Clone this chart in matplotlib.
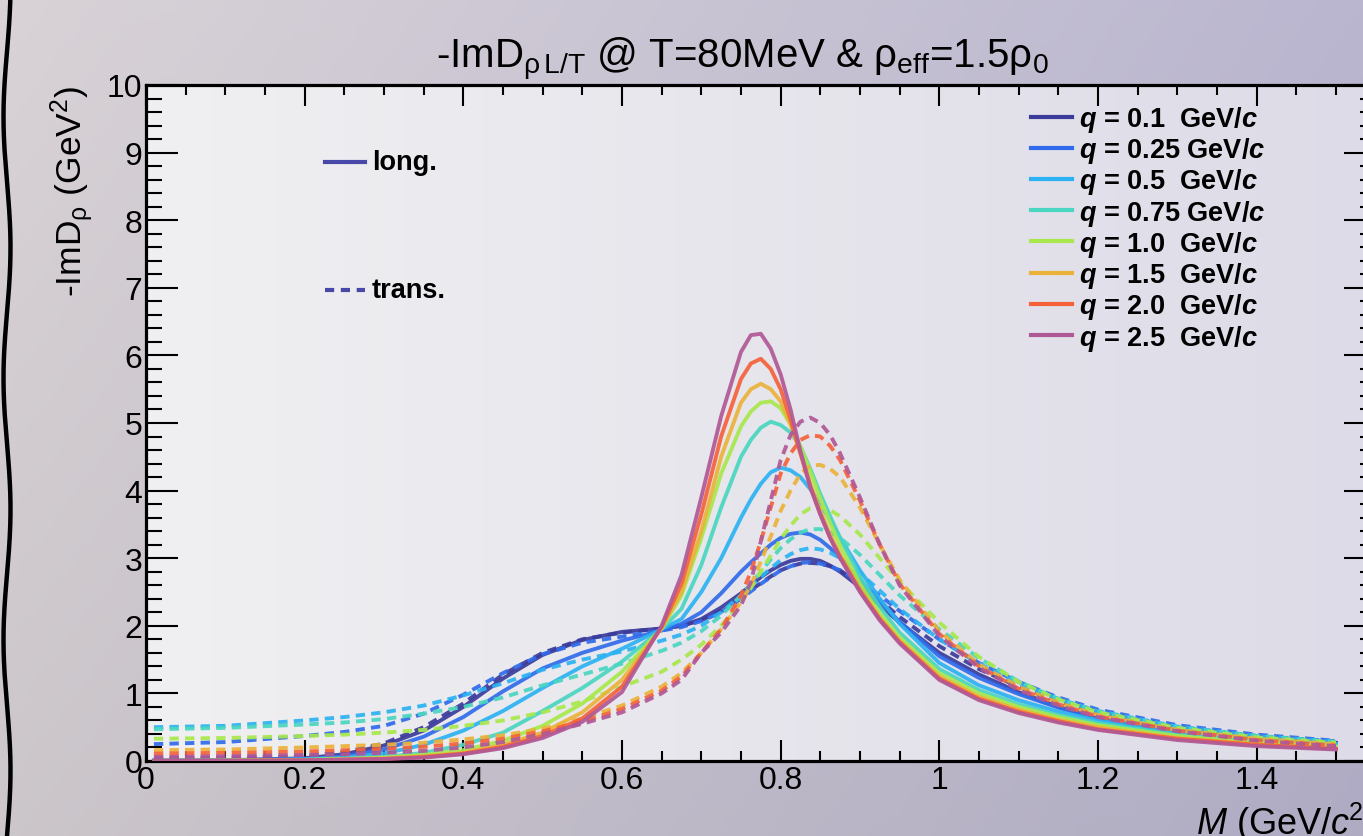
import numpy as np
import matplotlib
matplotlib.use('Agg')
import matplotlib.pyplot as plt
from matplotlib.lines import Line2D
from matplotlib.ticker import MultipleLocator, FixedLocator

plt.rcParams['font.family'] = 'Liberation Sans'
plt.rcParams['mathtext.fontset'] = 'custom'
plt.rcParams['mathtext.rm'] = 'Liberation Sans'
plt.rcParams['mathtext.it'] = 'Liberation Sans:italic:bold'
plt.rcParams['mathtext.sf'] = 'Liberation Sans:italic'
plt.rcParams['mathtext.bf'] = 'Liberation Sans:bold'

# invariant mass grid (GeV/c^2)
m_gev = [0.01, 0.1, 0.2, 0.25, 0.3, 0.35, 0.4, 0.45, 0.5, 0.55, 0.6, 0.65, 0.675, 0.7, 0.725, 0.75,
         0.7625, 0.775, 0.7875, 0.8, 0.8125, 0.825, 0.8375, 0.85, 0.8625, 0.875,
         0.9, 0.925, 0.95, 1.0, 1.05, 1.1, 1.15, 1.2, 1.3, 1.4, 1.5]

q_labels = ['0.1 ', '0.25', '0.5 ', '0.75', '1.0 ', '1.5 ', '2.0 ', '2.5 ']
colors = ['#3b3b9c', '#2f6bea', '#2cb2f2', '#4ad6c0', '#a8e84c', '#ebb23a', '#f5613a', '#b05896']

# longitudinal  -ImD_rho
long_q010 = [0.005, 0.01, 0.04, 0.1, 0.23, 0.45, 0.8, 1.22, 1.57, 1.79, 1.91, 1.96, 2.0, 2.1, 2.27, 2.48,
             2.6, 2.72, 2.82, 2.9, 2.96, 2.99, 2.99, 2.96, 2.89, 2.8,
             2.57, 2.3, 2.05, 1.6, 1.28, 1.02, 0.8, 0.64, 0.45, 0.34, 0.27]
long_q025 = [0.004, 0.01, 0.03, 0.07, 0.17, 0.36, 0.65, 1.03, 1.37, 1.6, 1.78, 1.93, 2.03, 2.2, 2.48, 2.8,
             2.94, 3.07, 3.2, 3.3, 3.36, 3.38, 3.35, 3.27, 3.15, 3.0,
             2.68, 2.36, 2.06, 1.55, 1.23, 0.99, 0.79, 0.63, 0.44, 0.33, 0.26]
long_q050 = [0.003, 0.008, 0.025, 0.05, 0.11, 0.24, 0.45, 0.74, 1.08, 1.4, 1.66, 1.95, 2.1, 2.5, 3.0, 3.6,
             3.87, 4.1, 4.27, 4.34, 4.3, 4.2, 4.02, 3.8, 3.56, 3.3,
             2.82, 2.4, 2.03, 1.45, 1.12, 0.9, 0.73, 0.6, 0.42, 0.31, 0.25]
long_q075 = [0.003, 0.006, 0.02, 0.035, 0.06, 0.12, 0.24, 0.42, 0.74, 1.08, 1.47, 1.95, 2.25, 2.9, 3.75, 4.5,
             4.75, 4.93, 5.02, 4.97, 4.86, 4.65, 4.32, 3.95, 3.62, 3.3,
             2.72, 2.28, 1.9, 1.36, 1.05, 0.84, 0.68, 0.56, 0.39, 0.29, 0.23]
long_q100 = [0.002, 0.005, 0.015, 0.03, 0.05, 0.09, 0.16, 0.3, 0.52, 0.85, 1.32, 1.96, 2.45, 3.3, 4.25, 4.95,
             5.17, 5.3, 5.32, 5.22, 4.98, 4.65, 4.28, 3.88, 3.52, 3.18,
             2.62, 2.18, 1.83, 1.3, 1.0, 0.8, 0.65, 0.53, 0.37, 0.27, 0.21]
long_q150 = [0.002, 0.004, 0.012, 0.025, 0.04, 0.07, 0.12, 0.24, 0.42, 0.72, 1.2, 1.97, 2.5, 3.4, 4.5, 5.3,
             5.5, 5.58, 5.5, 5.32, 4.98, 4.55, 4.1, 3.7, 3.35, 3.05,
             2.54, 2.12, 1.78, 1.25, 0.95, 0.76, 0.61, 0.5, 0.34, 0.25, 0.19]
long_q200 = [0.002, 0.004, 0.011, 0.02, 0.03, 0.06, 0.11, 0.21, 0.37, 0.63, 1.1, 1.98, 2.62, 3.65, 4.8, 5.65,
             5.88, 5.95, 5.8, 5.5, 5.05, 4.55, 4.05, 3.65, 3.3, 3.02,
             2.52, 2.1, 1.76, 1.22, 0.92, 0.73, 0.59, 0.47, 0.33, 0.24, 0.18]
long_q250 = [0.002, 0.003, 0.01, 0.02, 0.03, 0.05, 0.1, 0.19, 0.34, 0.58, 1.02, 2.0, 2.75, 3.9, 5.1, 6.05,
             6.3, 6.32, 6.1, 5.72, 5.2, 4.58, 4.05, 3.65, 3.3, 3.0,
             2.5, 2.08, 1.74, 1.2, 0.9, 0.71, 0.57, 0.46, 0.31, 0.22, 0.17]

# transverse  -ImD_rho
trans_q010 = [0.04, 0.05, 0.07, 0.13, 0.26, 0.5, 0.85, 1.28, 1.6, 1.8, 1.9, 1.96, 2.0, 2.08, 2.22, 2.42,
              2.53, 2.63, 2.73, 2.82, 2.88, 2.92, 2.93, 2.92, 2.88, 2.82,
              2.62, 2.38, 2.13, 1.7, 1.36, 1.1, 0.88, 0.72, 0.5, 0.37, 0.29]
trans_q025 = [0.25, 0.28, 0.37, 0.43, 0.52, 0.7, 0.98, 1.3, 1.58, 1.75, 1.84, 1.93, 1.98, 2.07, 2.2, 2.4,
              2.51, 2.62, 2.72, 2.82, 2.88, 2.93, 2.94, 2.92, 2.88, 2.82,
              2.65, 2.45, 2.22, 1.8, 1.45, 1.17, 0.94, 0.76, 0.53, 0.39, 0.3]
trans_q050 = [0.5, 0.52, 0.6, 0.65, 0.72, 0.82, 0.97, 1.15, 1.35, 1.5, 1.62, 1.78, 1.87, 2.0, 2.2, 2.45,
              2.58, 2.72, 2.85, 2.97, 3.06, 3.12, 3.15, 3.13, 3.08, 3.0,
              2.78, 2.52, 2.25, 1.8, 1.44, 1.15, 0.92, 0.74, 0.51, 0.37, 0.29]
trans_q075 = [0.47, 0.49, 0.54, 0.57, 0.62, 0.7, 0.8, 0.94, 1.12, 1.28, 1.44, 1.63, 1.75, 1.92, 2.15, 2.45,
              2.62, 2.8, 2.98, 3.15, 3.28, 3.38, 3.43, 3.43, 3.38, 3.3,
              3.05, 2.75, 2.45, 1.95, 1.52, 1.18, 0.92, 0.73, 0.5, 0.37, 0.28]
trans_q100 = [0.33, 0.34, 0.37, 0.39, 0.42, 0.46, 0.52, 0.6, 0.72, 0.88, 1.1, 1.32, 1.5, 1.72, 2.0, 2.35,
              2.56, 2.8, 3.04, 3.28, 3.48, 3.65, 3.74, 3.75, 3.71, 3.62,
              3.35, 3.0, 2.65, 2.05, 1.54, 1.17, 0.91, 0.72, 0.49, 0.35, 0.27]
trans_q150 = [0.16, 0.17, 0.2, 0.22, 0.24, 0.27, 0.32, 0.38, 0.48, 0.63, 0.82, 1.1, 1.3, 1.6, 1.95, 2.35,
              2.6, 2.95, 3.32, 3.7, 4.0, 4.25, 4.37, 4.38, 4.32, 4.2,
              3.75, 3.2, 2.68, 1.92, 1.43, 1.1, 0.86, 0.68, 0.46, 0.33, 0.25]
trans_q200 = [0.11, 0.12, 0.14, 0.16, 0.18, 0.21, 0.26, 0.33, 0.44, 0.58, 0.77, 1.04, 1.25, 1.6, 1.95, 2.45,
              2.8, 3.25, 3.75, 4.25, 4.55, 4.75, 4.82, 4.8, 4.66, 4.45,
              3.85, 3.2, 2.62, 1.88, 1.4, 1.07, 0.84, 0.66, 0.45, 0.31, 0.23]
trans_q250 = [0.06, 0.07, 0.09, 0.1, 0.12, 0.15, 0.2, 0.28, 0.4, 0.55, 0.72, 1.0, 1.2, 1.6, 1.9, 2.3,
              2.65, 3.25, 3.85, 4.45, 4.82, 5.02, 5.08, 5.0, 4.82, 4.55,
              3.9, 3.2, 2.6, 1.85, 1.38, 1.05, 0.82, 0.65, 0.44, 0.3, 0.22]

long_curves = [long_q010, long_q025, long_q050, long_q075, long_q100, long_q150, long_q200, long_q250]
trans_curves = [trans_q010, trans_q025, trans_q050, trans_q075, trans_q100, trans_q150, trans_q200, trans_q250]

W, H = 1363, 837
fig = plt.figure(figsize=(W / 100, H / 100), dpi=100)

# background gradient (figure)
gx = np.linspace(0, 1, 256)[None, :]
gy = np.linspace(0, 1, 128)[:, None]
c_left = np.array([217, 211, 215]) / 255
c_right = np.array([186, 182, 208]) / 255
bg = c_left[None, None, :] * (1 - gx[..., None]) + c_right[None, None, :] * gx[..., None]
bg = bg * (1 - 0.06 * gy[..., None])
ax_bg = fig.add_axes([0, 0, 1, 1], zorder=-10)
ax_bg.imshow(np.clip(bg, 0, 1), aspect='auto', extent=[0, W, 0, H], origin='upper')
# torn-edge wavy line on the left
yy = np.linspace(0, H, 400)
ax_bg.plot(7 + 3.5 * np.sin(yy / H * 2 * np.pi * 3.2), yy, color='black', lw=3.2)
ax_bg.set_xlim(0, W)
ax_bg.set_ylim(0, H)
ax_bg.axis('off')

x0, x1 = 146, 1375.6
y0, y1 = 762, 86
ax = fig.add_axes([x0 / W, 1 - y0 / H, (x1 - x0) / W, (y0 - y1) / H])
ax.set_facecolor('none')

# plot-area gradient
p_left = np.array([240, 240, 242]) / 255
p_right = np.array([221, 219, 231]) / 255
pg = p_left[None, None, :] * (1 - gx[..., None]) + p_right[None, None, :] * gx[..., None]
pg = np.repeat(pg, 4, axis=0)
ax.imshow(pg, aspect='auto', extent=[0, 1.55, 0, 10], zorder=0)

for i in range(len(q_labels)):
    ax.plot(m_gev, long_curves[i], color=colors[i], lw=2.8, alpha=0.92,
            solid_joinstyle='round', zorder=3)
    ax.plot(m_gev, trans_curves[i], color=colors[i], lw=2.8, alpha=0.92,
            linestyle=(0, (2.4, 1.6)), zorder=3)

ax.set_xlim(0, 1.55)
ax.set_ylim(0, 10)

ax.xaxis.set_major_locator(FixedLocator([0, 0.2, 0.4, 0.6, 0.8, 1.0, 1.2, 1.4]))
ax.set_xticklabels(['0', '0.2', '0.4', '0.6', '0.8', '1', '1.2', '1.4'])
ax.xaxis.set_minor_locator(MultipleLocator(0.05))
ax.yaxis.set_major_locator(MultipleLocator(1))
ax.yaxis.set_minor_locator(MultipleLocator(0.2))

ax.tick_params(which='both', direction='in', top=True, right=True, width=1.5, colors='black',
               labelsize=23)
ax.tick_params(axis='x', which='major', length=15, pad=3)
ax.tick_params(axis='x', which='minor', length=7.5)
ax.tick_params(axis='y', which='major', length=23, pad=2.5)
ax.tick_params(axis='y', which='minor', length=11.5)
for sp in ax.spines.values():
    sp.set_linewidth(2.3)

ax.set_ylabel('-ImD$_{\\mathrm{ρ}}$ (GeV$^{\\mathrm{2}}$)', fontsize=25.5, loc='top')
ax.yaxis.set_label_coords(-0.041, 1.0)
ax.set_xlabel('$\\mathsf{M}$ (GeV/$\\mathsf{c}^{\\mathrm{2}}$)', fontsize=26, loc='right')
ax.xaxis.set_label_coords(1.0, -0.057)

fig.text(742 / W, 1 - 68 / H,
         '-ImD$_{\\mathrm{ρ\\,L/T}}$ @ T=80MeV & ρ$_{\\mathrm{eff}}$=1.5ρ$_{\\mathrm{0}}$',
         fontsize=29, ha='center', va='baseline')

# q legend
handles = [Line2D([0], [0], color=colors[i], lw=3) for i in range(len(q_labels))]
labels = ['$q$ = ' + q.strip() + ('  ' if q.endswith(' ') else ' ') + 'GeV/$c$' for q in q_labels]
ax.legend(handles, labels, loc='upper left', bbox_to_anchor=(1031 / W, 1 - 105 / H),
          bbox_transform=fig.transFigure, frameon=False, borderpad=0, borderaxespad=0,
          handlelength=1.5, handletextpad=0.27, labelspacing=0.045,
          prop={'weight': 'bold', 'size': 19.5})

# long./trans. key
key_color = '#4848a8'
fig.add_artist(Line2D([325 / W, 365 / W], [1 - 163 / H, 1 - 163 / H], color=key_color, lw=3))
fig.add_artist(Line2D([325 / W, 365 / W], [1 - 291 / H, 1 - 291 / H], color=key_color, lw=3,
                      linestyle=(0, (2.2, 1.6))))
fig.text(372 / W, 1 - 163 / H, 'long.', fontsize=19.5, fontweight='bold', va='center')
fig.text(372 / W, 1 - 291 / H, 'trans.', fontsize=19.5, fontweight='bold', va='center')

fig.savefig('out.png', dpi=100)
